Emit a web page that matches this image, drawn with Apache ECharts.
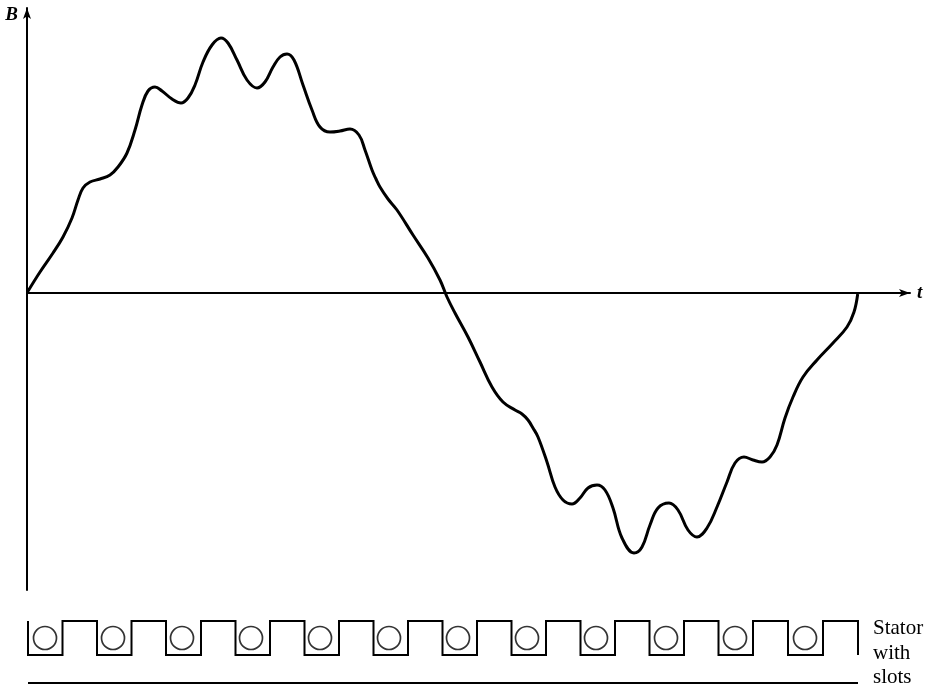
<!DOCTYPE html>
<html><head><meta charset="utf-8">
<style>html,body{margin:0;padding:0;background:#fff}#c{width:931px;height:686px}</style>
<script src="https://cdn.jsdelivr.net/npm/echarts@6/dist/echarts.min.js"></script>
</head><body><div id="c"></div>
<script>
// Flux density wave: t, B readings
const waveT = [0.5,13,26,36,45,51,56,63,73,83,91,100,108,115,121,128,135,145,154,161,168,176,185,194,201,210,220,230,238,246,253,260,267,276,285,293,303,313,323,332,338,345,349,353,361,370,386,401,413,420,428,441,453,465,476,488,495,501,506,511,520,528,536,545,553,561,570,578,586,595,607,615,623,631,642,651,661,670,680,690,700,708,717,726,735,743,750,758,766,776,790,806,820,827,830.7];
const waveB = [1,21,40,56,75,93,105,111,114,118,126,140,163,188,202,206,202,194,190,195,208,231,248,255,250,233,213,205,211,226,236,239,233,208,183,166,161,162,164,158,143,123,114,106,94,83,58,35,13,-4,-20,-44,-69,-94,-109,-117,-121,-127,-135,-144,-169,-194,-207,-211,-205,-195,-192,-197,-215,-245,-260,-254,-232,-215,-210,-217,-237,-244,-235,-214,-189,-170,-164,-167,-169,-164,-152,-125,-104,-84,-67,-50,-34,-19,-1];
// Stator profile: slot edges and heights
const slotEdges = [1,35.5,70,104.5,139,174,208.5,243,277.5,312,346.5,381,415.5,450,484.5,519,553.5,588,622.5,657,691.5,726,761,796,831];
const slotLow = 0, slotHigh = 34;
const conductorT = [18,86,155,224,293,362,431,500,569,639,708,778];
const conductorY = [17,17,17,17,17,17,17,17,17,17,17,17];
const baseLineT = [1,831];
const baseLineY = [-28,-28];
const statorLabel = ['Stator','with','slots'];
const axisNames = {x:'t', y:'B'};

const statorProfile = [[slotEdges[0],slotHigh]];
slotEdges.forEach((e,i)=>{
  if(i===0){statorProfile.push([e,slotLow]);return;}
  const isUpEdge = i%2===1;
  const prev = isUpEdge?slotLow:slotHigh, next = isUpEdge?slotHigh:slotLow;
  statorProfile.push([e,prev]); statorProfile.push([e,next]);
});
const serif = '"Liberation Serif","DejaVu Serif",serif';
const chart = echarts.init(document.getElementById('c'),null,{renderer:'canvas'});
const hidden = {axisLabel:{show:false},axisTick:{show:false},splitLine:{show:false},axisLine:{show:false}};
chart.setOption({
  animation:false,
  backgroundColor:'#fff',
  grid:[
    {left:27,right:21,top:8,bottom:96},
    {left:27,right:21,top:593,height:92}
  ],
  xAxis:[
    {gridIndex:0,type:'value',min:0,max:883,
     name:axisNames.x,nameLocation:'end',nameGap:7,
     nameTextStyle:{fontFamily:serif,fontStyle:'italic',fontWeight:'bold',fontSize:19,color:'#000'},
     axisLine:{show:true,onZero:true,symbol:['none','arrow'],symbolSize:[6,11],lineStyle:{color:'#000',width:2}},
     axisTick:{show:false},axisLabel:{show:false},splitLine:{show:false}},
    {gridIndex:1,type:'value',min:0,max:883,...hidden}
  ],
  yAxis:[
    {gridIndex:0,type:'value',min:-297,max:285,
     name:axisNames.y,nameLocation:'end',nameGap:-17,
     nameTextStyle:{fontFamily:serif,fontStyle:'italic',fontWeight:'bold',fontSize:19,color:'#000',align:'right',padding:[0,9,0,0]},
     axisLine:{show:true,onZero:false,symbol:['none','arrow'],symbolSize:[6,11],lineStyle:{color:'#000',width:2}},
     axisTick:{show:false},axisLabel:{show:false},splitLine:{show:false}},
    {gridIndex:1,type:'value',min:-30,max:62,...hidden}
  ],
  series:[
    {type:'line',xAxisIndex:0,yAxisIndex:0,smooth:0.4,showSymbol:false,symbol:'none',
     lineStyle:{color:'#000',width:3},z:3,
     data:waveT.map((t,i)=>[t,waveB[i]])},
    {type:'line',xAxisIndex:1,yAxisIndex:1,showSymbol:false,symbol:'none',
     lineStyle:{color:'#000',width:2,join:'miter'},
     data:statorProfile},
    {type:'scatter',xAxisIndex:1,yAxisIndex:1,symbol:'circle',symbolSize:23,
     itemStyle:{color:'rgba(0,0,0,0)',borderColor:'#000',borderWidth:1.7},
     data:conductorT.map((t,i)=>[t,conductorY[i]])},
    {type:'line',xAxisIndex:1,yAxisIndex:1,showSymbol:false,symbol:'none',
     lineStyle:{color:'#000',width:2},
     data:baseLineT.map((t,i)=>[t,baseLineY[i]])}
  ],
  graphic:statorLabel.map((s,i)=>({type:'text',left:873,top:[618,643,667][i],
     style:{text:s,fontFamily:serif,fontSize:21,fill:'#000'}}))
});
</script></body></html>
